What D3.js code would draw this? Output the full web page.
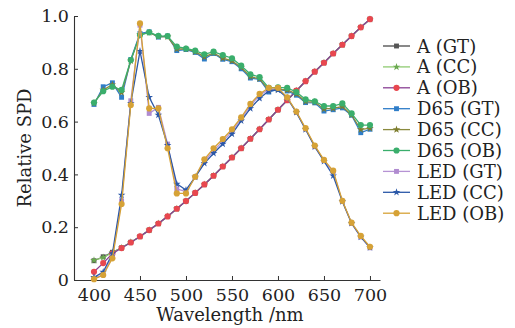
<!DOCTYPE html>
<html>
<head>
<meta charset="utf-8">
<script src="https://cdn.jsdelivr.net/npm/d3@7"></script>
<style>
  body { margin: 0; background: #fff; }
  svg { display: block; }
  text { font-family: "DejaVu Serif", "Liberation Serif", serif; fill: #222; }
</style>
</head>
<body>
<svg id="chart" width="515" height="328"></svg>
<script>
const wavelengths = [400, 410, 420, 430, 440, 450, 460, 470, 480, 490, 500, 510, 520, 530, 540, 550,
  560, 570, 580, 590, 600, 610, 620, 630, 640, 650, 660, 670, 680, 690, 700];

const aGT = [0.073, 0.088, 0.105, 0.122, 0.143, 0.165, 0.189, 0.214, 0.241, 0.270, 0.299, 0.330, 0.362, 0.395, 0.430, 0.464,
  0.499, 0.535, 0.571, 0.608, 0.645, 0.681, 0.717, 0.753, 0.789, 0.823, 0.858, 0.891, 0.924, 0.957, 0.988];
const aCC = [0.075, 0.085, 0.104, 0.122, 0.143, 0.165, 0.189, 0.214, 0.241, 0.270, 0.299, 0.330, 0.362, 0.395, 0.430, 0.464,
  0.499, 0.535, 0.571, 0.608, 0.645, 0.681, 0.717, 0.753, 0.789, 0.823, 0.858, 0.891, 0.924, 0.957, 0.988];
const aOB = [0.031, 0.064, 0.100, 0.121, 0.142, 0.165, 0.189, 0.214, 0.241, 0.270, 0.299, 0.330, 0.362, 0.395, 0.430, 0.464,
  0.499, 0.535, 0.571, 0.608, 0.645, 0.681, 0.717, 0.753, 0.789, 0.823, 0.858, 0.891, 0.924, 0.957, 0.988];

const d65GT = [0.665, 0.732, 0.747, 0.692, 0.835, 0.934, 0.940, 0.920, 0.924, 0.869, 0.873, 0.862, 0.837, 0.858, 0.836, 0.827,
  0.800, 0.765, 0.760, 0.712, 0.722, 0.716, 0.700, 0.672, 0.671, 0.640, 0.645, 0.652, 0.624, 0.558, 0.571];
const d65CC = [0.670, 0.720, 0.740, 0.710, 0.830, 0.930, 0.937, 0.922, 0.921, 0.875, 0.875, 0.865, 0.845, 0.860, 0.840, 0.830,
  0.805, 0.770, 0.762, 0.720, 0.722, 0.720, 0.705, 0.676, 0.674, 0.648, 0.650, 0.657, 0.625, 0.570, 0.575];
const d65OB = [0.672, 0.715, 0.732, 0.720, 0.833, 0.928, 0.938, 0.925, 0.924, 0.884, 0.877, 0.869, 0.855, 0.865, 0.852, 0.840,
  0.812, 0.779, 0.769, 0.728, 0.730, 0.728, 0.712, 0.684, 0.677, 0.659, 0.659, 0.669, 0.631, 0.587, 0.587];

const ledGT = [0.005, 0.020, 0.090, 0.300, 0.679, 0.965, 0.631, 0.654, 0.515, 0.345, 0.335, 0.390, 0.450, 0.490, 0.525, 0.563,
  0.610, 0.660, 0.700, 0.722, 0.725, 0.690, 0.635, 0.572, 0.505, 0.452, 0.410, 0.298, 0.214, 0.163, 0.122];
const ledCC = [0.010, 0.030, 0.100, 0.322, 0.670, 0.867, 0.692, 0.625, 0.510, 0.364, 0.341, 0.390, 0.442, 0.480, 0.515, 0.553,
  0.603, 0.650, 0.688, 0.716, 0.720, 0.690, 0.635, 0.570, 0.505, 0.450, 0.395, 0.297, 0.215, 0.163, 0.123];
const ledOB = [0.003, 0.019, 0.082, 0.288, 0.663, 0.972, 0.650, 0.650, 0.499, 0.328, 0.328, 0.391, 0.457, 0.499, 0.534, 0.571,
  0.616, 0.667, 0.705, 0.728, 0.728, 0.692, 0.638, 0.575, 0.509, 0.455, 0.414, 0.300, 0.217, 0.167, 0.126];

const seriesNames = ['A (GT)', 'A (CC)', 'A (OB)', 'D65 (GT)', 'D65 (CC)', 'D65 (OB)', 'LED (GT)', 'LED (CC)', 'LED (OB)'];
const seriesValues = [aGT, aCC, aOB, d65GT, d65CC, d65OB, ledGT, ledCC, ledOB];
const lineColors = ['#4a4a4a', '#8fcb72', '#8a3f94', '#2f7dc8', '#8a8a3e', '#3aae6c', '#b693d4', '#2b58a8', '#d6a236'];
const markColors = ['#555555', '#6aa84f', '#e8474f', '#2f7dc8', '#7d7d2e', '#3aae6c', '#b08bd0', '#2b58a8', '#d6a236'];
const markShapes = ['square', 'star', 'circle', 'square', 'star', 'circle', 'square', 'star', 'circle'];

const xTicks = [400, 450, 500, 550, 600, 650, 700];
const yTicks = [0, 0.2, 0.4, 0.6, 0.8, 1.0];

const svg = d3.select('#chart');
const x = d3.scaleLinear().domain([378.26, 710.9]).range([74, 380]);
const y = d3.scaleLinear().domain([0, 1]).range([280, 16]);

const symbolFor = s => s === 'square' ? d3.symbolSquare : s === 'star' ? d3.symbolStar : d3.symbolCircle;
const sizeFor = s => s === 'square' ? 24 : s === 'star' ? 18 : 30;

// axes
const xAxis = svg.append('g').attr('transform', 'translate(0,280)')
  .call(d3.axisBottom(x).tickValues(xTicks).tickSize(-4).tickSizeOuter(0).tickPadding(9));
const yAxis = svg.append('g').attr('transform', 'translate(74,0)')
  .call(d3.axisLeft(y).tickValues(yTicks).tickSize(-4).tickSizeOuter(0).tickPadding(5)
    .tickFormat(d => d === 0 ? '0' : d3.format('.1f')(d)));
[xAxis, yAxis].forEach(g => {
  g.select('.domain').attr('stroke', '#333').attr('stroke-width', 1.1);
  g.selectAll('.tick line').attr('stroke', '#333');
  g.selectAll('.tick text').attr('font-family', '"DejaVu Serif", serif').attr('font-size', 17.5).attr('fill', '#2a2a2a');
});

svg.append('text').attr('x', 230).attr('y', 321).attr('text-anchor', 'middle')
  .attr('font-size', 18).attr('fill', '#2a2a2a').text('Wavelength /nm');
svg.append('text').attr('transform', 'translate(31,148) rotate(-90)').attr('text-anchor', 'middle')
  .attr('font-size', 18).attr('fill', '#2a2a2a').text('Relative SPD');

// series
const line = d3.line().x((d, i) => x(wavelengths[i])).y(d => y(d));
seriesValues.forEach((vals, k) => {
  const g = svg.append('g');
  g.append('path').attr('d', line(vals)).attr('fill', 'none')
    .attr('stroke', lineColors[k]).attr('stroke-width', 1.3);
  g.selectAll('path.m').data(vals).enter().append('path').attr('class', 'm')
    .attr('transform', (d, i) => `translate(${x(wavelengths[i])},${y(d)})`)
    .attr('d', d3.symbol().type(symbolFor(markShapes[k])).size(sizeFor(markShapes[k])))
    .attr('fill', markColors[k]);
});

// legend
const legend = svg.append('g').attr('transform', 'translate(383,46)');
seriesNames.forEach((name, k) => {
  const row = legend.append('g').attr('transform', `translate(0,${k * 20.9})`);
  row.append('line').attr('x1', 0).attr('x2', 27).attr('stroke', lineColors[k]).attr('stroke-width', 1.3);
  row.append('path').attr('transform', 'translate(13.5,0)')
    .attr('d', d3.symbol().type(symbolFor(markShapes[k])).size(sizeFor(markShapes[k])))
    .attr('fill', markColors[k]);
  row.append('text').attr('x', 34).attr('y', 6.5).attr('font-size', 18).attr('fill', '#2a2a2a').text(name);
});
</script>
</body>
</html>
